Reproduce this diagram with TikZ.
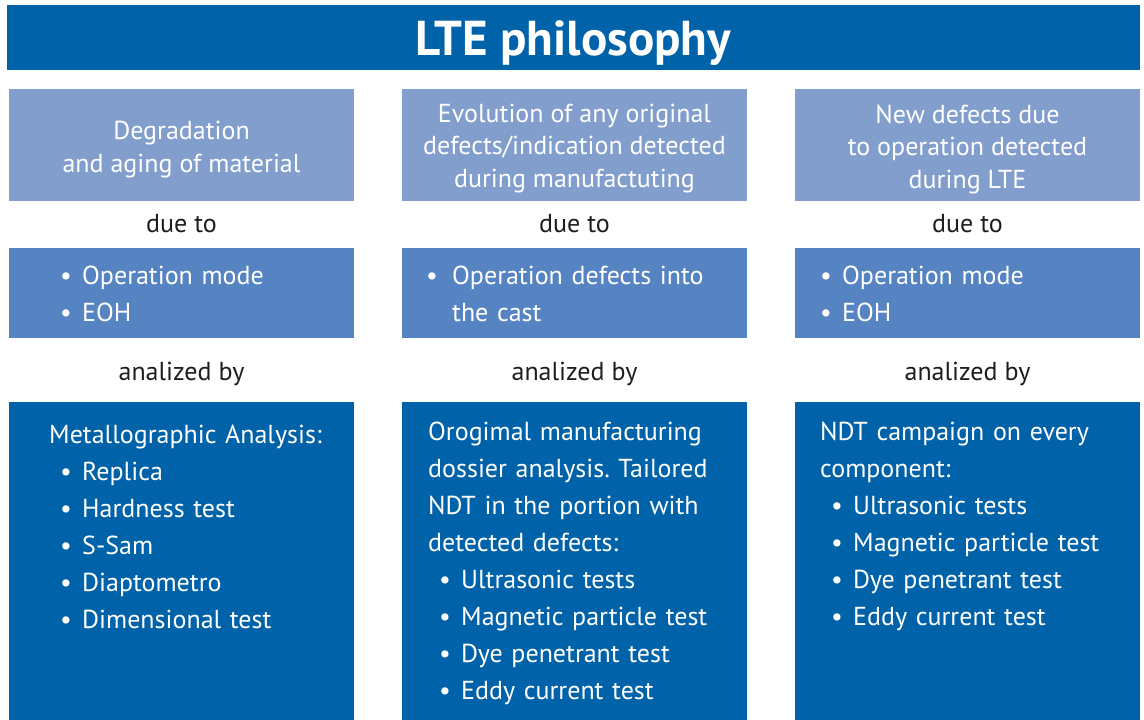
\documentclass[tikz,border=0pt]{standalone}
\usepackage{fontspec}
\setmainfont{PT Sans}
\frenchspacing
\definecolor{dblue}{HTML}{0062A9}
\definecolor{lblue}{HTML}{829ECD}
\definecolor{mblue}{HTML}{5684C2}
\definecolor{dtext}{HTML}{1E1E1E}
\newcommand\itm[1]{\hspace*{11pt}\makebox[22pt][l]{\textbullet}#1}
\begin{document}
\begin{tikzpicture}[x=1pt,y=-1pt,
  boxtxt/.style={inner sep=0pt,text=white,font=\fontsize{26}{37}\selectfont},
  lighttxt/.style={inner sep=0pt,text=white,align=center,font=\fontsize{26}{32.5}\selectfont,anchor=base},
  linktxt/.style={inner sep=0pt,text=dtext,font=\fontsize{26}{32}\selectfont,anchor=base},
  leftbox/.style={boxtxt,anchor=base west,text width=310pt,align=left}]
\useasboundingbox (0,0) rectangle (1144,720);
% title
\fill[dblue] (7,5) rectangle (1140,70);
\node[inner sep=0pt,text=white,font=\fontsize{49}{54}\selectfont\bfseries,anchor=base] (title) at (573.5,55) {LTE philosophy};
% boxes
\foreach \x/\n in {9/a,402/b,795/c}{
  \fill[lblue] (\x,89) rectangle ++(345,112);
  \fill[mblue] (\x,248) rectangle ++(345,90);
  \fill[dblue] (\x,402) rectangle ++(345,318);
}
% light boxes (anchor = baseline of last line)
\node[lighttxt] (la) at (181.5,172) {Degradation\\and aging of material};
\node[lighttxt] (lb) at (574.5,187) {Evolution of any original\\defects/indication detected\\during manufactuting};
\node[lighttxt] (lc) at (967.5,188) {New defects due\\to operation detected\\during LTE};
% due to
\node[linktxt] (da) at (181.5,232) {due to};
\node[linktxt] (db) at (574.5,232) {due to};
\node[linktxt] (dc) at (967.5,232) {due to};
% mid boxes
\node[leftbox] (ma) at (49,284) {\itm{Operation mode}\\\itm{EOH}};
\node[leftbox] (mb) at (426,284) {\makebox[26pt][l]{\textbullet}Operation defects into\\\hspace*{26pt}the cast};
\node[leftbox] (mc) at (809,284) {\itm{Operation mode}\\\itm{EOH}};
% analized by
\node[linktxt] (aa) at (181.5,380) {analized by};
\node[linktxt] (ab) at (574.5,380) {analized by};
\node[linktxt] (ac) at (967.5,380) {analized by};
% bottom boxes
\node[leftbox] (ba) at (49,443) {Metallographic Analysis:\\\itm{Replica}\\\itm{Hardness test}\\\itm{S-Sam}\\\itm{Diaptometro}\\\itm{Dimensional test}};
\node[leftbox] (bb) at (428,440) {Orogimal manufacturing\\dossier analysis. Tailored\\NDT in the portion with\\detected defects:\\\itm{Ultrasonic tests}\\\itm{Magnetic particle test}\\\itm{Dye penetrant test}\\\itm{Eddy current test}};
\node[leftbox] (bc) at (820,440) {NDT campaign on every\\component:\\\itm{Ultrasonic tests}\\\itm{Magnetic particle test}\\\itm{Dye penetrant test}\\\itm{Eddy current test}};
\end{tikzpicture}
\end{document}
